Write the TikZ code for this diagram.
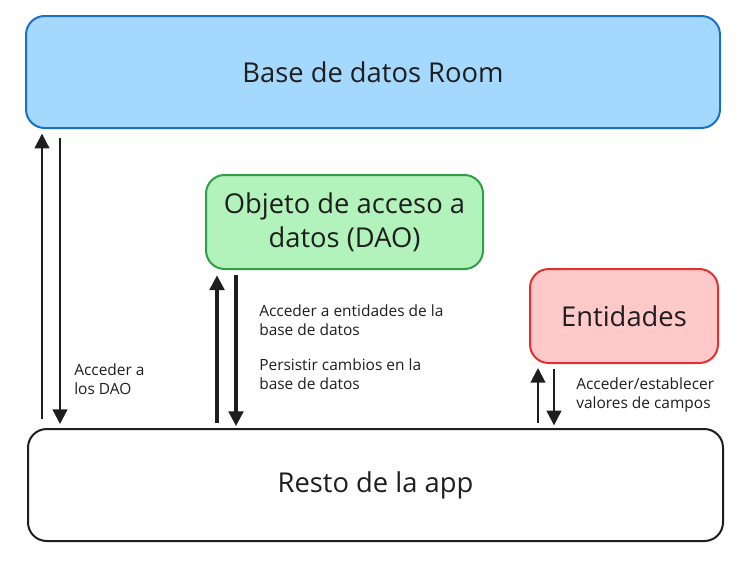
\documentclass[tikz,border=0pt]{standalone}
\usepackage{fontspec}
\setmainfont{Open Sans}
\usetikzlibrary{arrows.meta,calc}
\definecolor{ink}{HTML}{1E1E1E}
\definecolor{bluefill}{HTML}{A5D8FF}
\definecolor{bluestroke}{HTML}{1971C2}
\definecolor{greenfill}{HTML}{B2F2BB}
\definecolor{greenstroke}{HTML}{2F9E44}
\definecolor{redfill}{HTML}{FFC9C9}
\definecolor{redstroke}{HTML}{E03131}
\tikzset{
  boxbase/.style={draw, line width=1.5pt, rounded corners=14pt, inner sep=0pt, text=ink, align=center, font=\fontsize{20.5}{25.5}\selectfont},
  lbl/.style={anchor=west, align=left, inner sep=0pt, text=ink, font=\fontsize{11.6}{14.6}\selectfont},
  arr/.style={draw=ink, line width=1.6pt, -{Triangle[length=11pt,width=11pt]}},
  arrb/.style={draw=ink, line width=2.3pt, -{Triangle[length=11pt,width=11pt]}}
}
\begin{document}
\begin{tikzpicture}[x=0.75pt,y=-0.75pt]
\useasboundingbox (0,0) rectangle (752,562);
\node[boxbase, fill=bluefill, draw=bluestroke, minimum width=520.5pt, minimum height=84pt] (room) at (373,72) {Base de datos Room};
\node[boxbase, fill=greenfill, draw=greenstroke, minimum width=207.75pt, minimum height=70.5pt] (dao) at (344.5,222) {Objeto de acceso a\\datos (DAO)};
\node[boxbase, fill=redfill, draw=redstroke, minimum width=141pt, minimum height=70.5pt] (ent) at (624,316) {Entidades};
\node[boxbase, fill=white, draw=ink, minimum width=521.25pt, minimum height=84pt] (resto) at (375.5,485) {Resto de la app};
% column coordinates
\coordinate (c1) at (42,0);
\coordinate (c2) at (60,0);
\coordinate (c3) at (217,0);
\coordinate (c4) at (236,0);
\coordinate (c5) at (538,0);
\coordinate (c6) at (554,0);
% arrows
\draw[arr, shorten <=7pt, shorten >=3.5pt] (c1 |- resto.north) -- (c1 |- room.south);
\draw[arr, shorten <=6.5pt, shorten >=3pt] (c2 |- room.south) -- (c2 |- resto.north);
\draw[arrb, shorten <=4pt, shorten >=4pt] (c3 |- resto.north) -- (c3 |- dao.south);
\draw[arrb, shorten <=3.5pt, shorten >=1.5pt] (c4 |- dao.south) -- (c4 |- resto.north);
\draw[arr, shorten <=4pt, shorten >=3pt] (c5 |- resto.north) -- (c5 |- ent.south);
\draw[arr, shorten <=3.5pt, shorten >=2pt] (c6 |- ent.south) -- (c6 |- resto.north);
% labels
\node[lbl] (l1) at (74,379) {Acceder a\\los DAO};
\node[lbl] (l2) at (259,320) {Acceder a entidades de la\\base de datos};
\node[lbl] (l3) at (259,374) {Persistir cambios en la\\base de datos};
\node[lbl] (l4) at (576,395) {Acceder/establecer\\valores de campos};
\end{tikzpicture}
\end{document}
